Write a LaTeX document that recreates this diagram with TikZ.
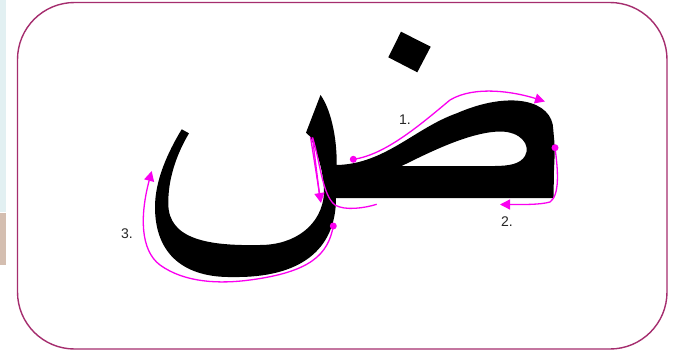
\documentclass[tikz,border=0pt]{standalone}
\usepackage{fontspec}
\setmainfont{Liberation Sans}
\usetikzlibrary{arrows.meta}
\definecolor{framecol}{RGB}{165,45,110}
\definecolor{mag}{RGB}{250,0,240}
\definecolor{stripa}{RGB}{226,240,242}
\definecolor{stripb}{RGB}{212,190,176}
\begin{document}
\begin{tikzpicture}[x=1pt,y=-1pt,
  magline/.style={draw=mag, line width=1.3pt},
  tiparrow/.style={-{Triangle[length=10pt,width=10pt]}},
  lbl/.style={font=\fontsize{14}{14}\selectfont, text=black!85, inner sep=0pt}]
\useasboundingbox (0,0) rectangle (678,353);
\fill[white] (0,0) rectangle (678,353);
% left strip artefact
\fill[stripa] (0,0) rectangle (6,212);
\fill[stripb] (0,213) rectangle (6,265);
% frame
\draw[framecol, line width=1.4pt, rounded corners=57pt] (17.5,2.5) rectangle (667,349);
% glyph
\fill[black, even odd rule] (320.5,95)
 .. controls (330,108) and (337,135) .. (336.7,165)
 .. controls (385,164) and (415,128) .. (456.7,113.3)
 .. controls (510,90) and (553,100) .. (553.3,130)
 .. controls (555,148) .. (554,170)
 -- (553.5,198) -- (336,198)
 .. controls (336,250) and (300,278) .. (233,277)
 .. controls (185,278) and (155,255) .. (155,207)
 .. controls (155,180) and (168,152) .. (181.7,129.3)
 -- (189,133.3)
 .. controls (176,155) and (168,180) .. (168.3,203.3)
 .. controls (168,240) and (210,246) .. (260,245)
 .. controls (295,245) and (322,225) .. (324,193.3)
 .. controls (324,170) and (316,150) .. (310.3,136.7)
 -- (306,132.7) -- cycle
 (401.7,166) .. controls (430,152) and (470,132) .. (500,131.5)
 .. controls (521,131.5) and (531,145) .. (525,156)
 .. controls (520,164) and (510,165.8) .. (495,166) -- cycle;
% dot of the letter
\fill[black] (401,31.7) -- (430.7,46.7) -- (417.3,72.3) -- (388.3,57.3) -- cycle;
% stroke 1
\coordinate (s1) at (353.3,159.3);
\coordinate (e1) at (545,101.5);
\draw[magline, tiparrow] (s1) .. controls (385,155) and (420,125) .. (450,100)
  .. controls (475,85) and (515,92) .. (e1);
\fill[mag] (s1) circle (3.5pt);
% stroke 2
\coordinate (s2) at (555,147.7);
\coordinate (e2) at (500,204.5);
\draw[magline, tiparrow] (s2) .. controls (558,170) and (560,195) .. (550,202)
  .. controls (540,205) and (520,204.5) .. (e2);
\fill[mag] (s2) circle (3.5pt);
% stroke 3
\coordinate (s3) at (333.3,226);
\coordinate (e3) at (151.7,171);
\draw[magline, tiparrow] (s3) .. controls (328,255) and (310,272) .. (250,280)
  .. controls (220,284) and (185,283) .. (160,265)
  .. controls (140,250) and (140,215) .. (e3);
\fill[mag] (s3) circle (3.5pt);
% vertical stroke marks
\coordinate (n1) at (310.5,137);
\coordinate (n2) at (312.5,137.5);
\coordinate (e4) at (321,203);
\coordinate (f4) at (376.7,204.3);
\draw[magline, tiparrow] (n1) -- (e4);
\draw[magline] (n2) -- (319.5,195);
\draw[magline] (n2) .. controls (320,160) and (322,195) .. (335,205)
  .. controls (345,211) and (365,208) .. (f4);
% labels
\node[lbl] (l1) at (405,120) {1.};
\node[lbl] (l2) at (507,222) {2.};
\node[lbl] (l3) at (127,234) {3.};
\end{tikzpicture}
\end{document}
